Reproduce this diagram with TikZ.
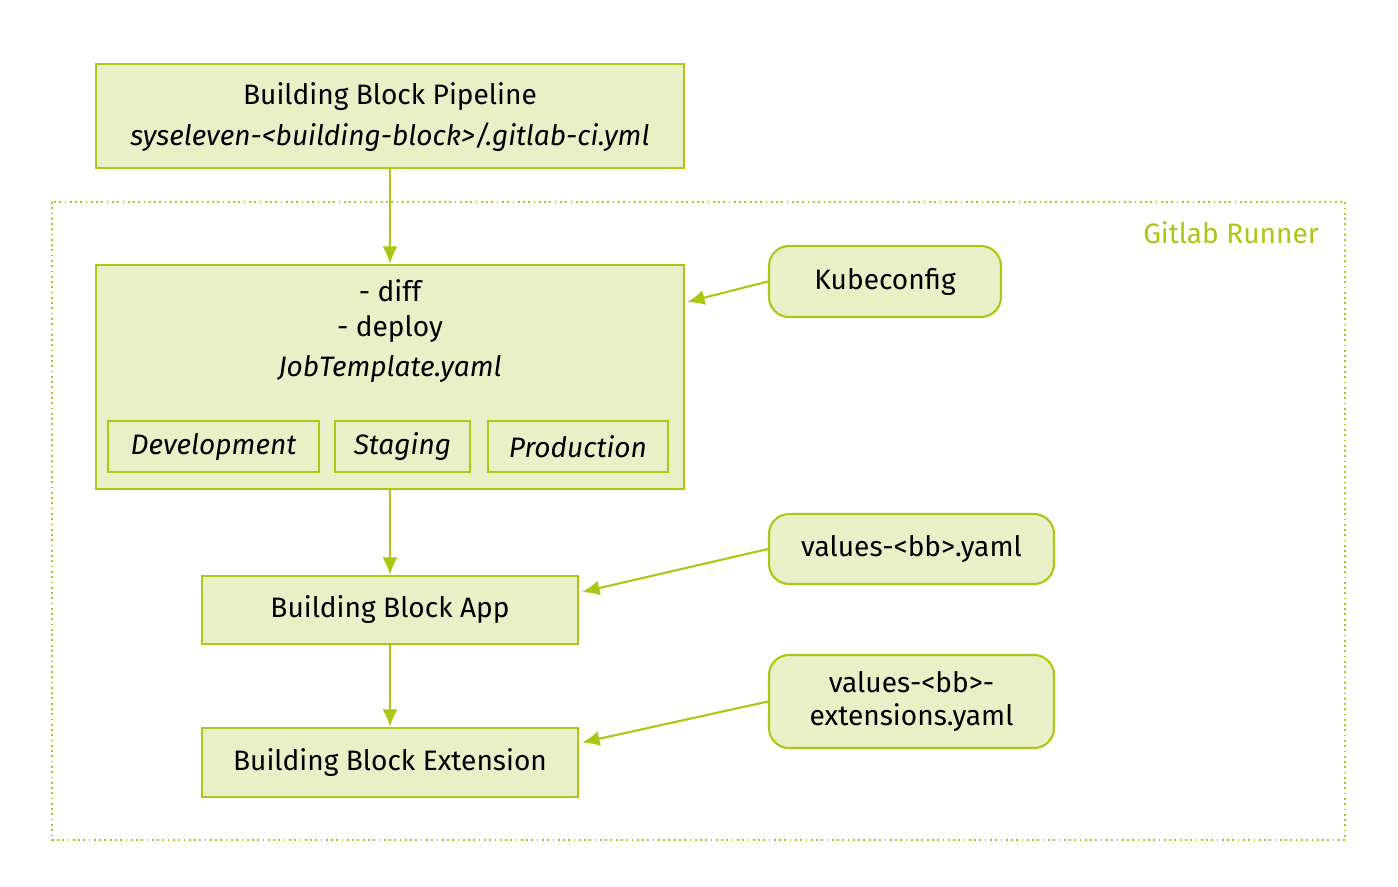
\documentclass[tikz,border=0pt]{standalone}
\usepackage{fontspec}
\setmainfont{Fira Sans}
\usetikzlibrary{arrows.meta, positioning, calc}
\definecolor{boxgreen}{RGB}{233, 240, 200}
\definecolor{linegreen}{RGB}{168, 200, 20}

\begin{document}
\begin{tikzpicture}[x=0.02cm, y=-0.02cm,
    block/.style={draw=linegreen, fill=boxgreen, line width=1.2pt, inner sep=0pt},
    extbox/.style={block, rounded corners=0.4cm},
    arrow/.style={-{Latex[length=3.5mm, width=3mm]}, linegreen, line width=1.2pt},
    txt/.style={font=\fontsize{16}{19}\selectfont},
    itxt/.style={font=\fontsize{16}{19}\selectfont\itshape}
]
\useasboundingbox (0,0) rectangle (1398,886);

% Gitlab runner frame
\draw[linegreen, dotted, line width=1pt] (52,202) rectangle (1345,840);
\node[txt, text=linegreen, anchor=east] (runner) at (1325,233) {Gitlab Runner};

% Pipeline
\node[block, minimum width=588*0.02cm, minimum height=104*0.02cm] (pipe) at (390,116) {};
\node[txt] (pipet) at (390,97) {Building Block Pipeline};
\node[itxt] (pipef) at (390,137) {syseleven-<building-block>/.gitlab-ci.yml};

% Jobs
\node[block, minimum width=588*0.02cm, minimum height=224*0.02cm] (jobs) at (390,377) {};
\node[txt] (diff) at (390,291) {- diff};
\node[txt] (deploy) at (390,329) {- deploy};
\node[itxt] (tmpl) at (390,369) {JobTemplate.yaml};
\node[block, itxt, minimum width=211*0.02cm, minimum height=51*0.02cm] (dev) at (213.5,446.5) {Development};
\node[block, itxt, minimum width=135*0.02cm, minimum height=51*0.02cm] (stag) at (402.5,446.5) {Staging};
\node[block, itxt, minimum width=180*0.02cm, minimum height=51*0.02cm] (prod) at (578,446.5) {Production};

% Apps
\node[block, txt, minimum width=376*0.02cm, minimum height=68*0.02cm] (app) at (390,610) {Building Block App};
\node[block, txt, minimum width=376*0.02cm, minimum height=69*0.02cm] (ext) at (390,762.5) {Building Block Extension};

% Inputs
\node[extbox, txt, minimum width=232*0.02cm, minimum height=71*0.02cm] (kube) at (885,281.5) {Kubeconfig};
\node[extbox, txt, minimum width=285*0.02cm, minimum height=70*0.02cm] (vals) at (911.5,549) {values-<bb>.yaml};
\node[extbox, txt, align=center, minimum width=285*0.02cm, minimum height=93*0.02cm] (evals) at (911.5,701.5) {values-<bb>-\\extensions.yaml};

% Connectors
\draw[arrow] (pipe) -- (jobs);
\draw[arrow] (jobs) -- (app);
\draw[arrow] (app) -- (ext);
\draw[arrow] (kube.west) -- ([xshift=0.04cm, yshift=1.5cm]jobs.east);
\draw[arrow] (vals.west) -- ([xshift=0.06cm, yshift=0.36cm]app.east);
\draw[arrow] (evals.west) -- ([xshift=0.06cm, yshift=0.4cm]ext.east);

\end{tikzpicture}
\end{document}
